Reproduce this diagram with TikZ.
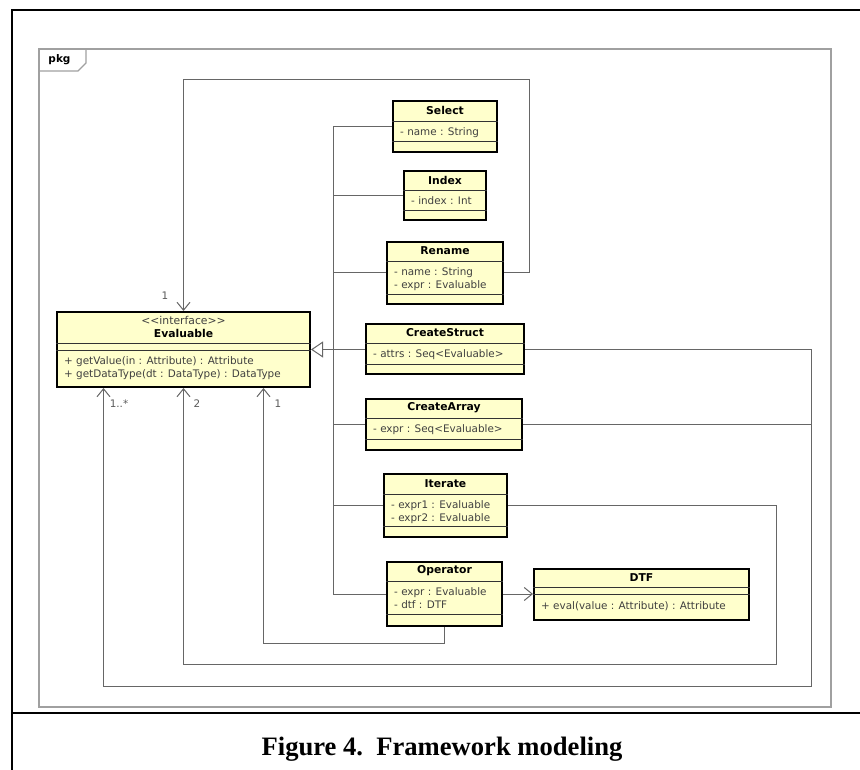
\documentclass[tikz,border=0pt]{standalone}
\usepackage{fontspec}
\setmainfont{Liberation Serif}
\newfontfamily\umlfont{DejaVu Sans}
\usetikzlibrary{positioning,arrows.meta}
\definecolor{umlfill}{RGB}{255,255,204}
\definecolor{umlgray}{RGB}{102,102,102}
\definecolor{pkggray}{RGB}{160,160,160}

\newcommand{\UmlClass}[9]{%
  \node[umlbox, minimum width=#3, minimum height=#4, #2] (#1) {};
  \draw[umlsep] ([yshift=-#5]#1.north west) -- ([yshift=-#5]#1.north east);
  \draw[umlsep] ([yshift=-#6]#1.north west) -- ([yshift=-#6]#1.north east);
  \node[umltitle] (#1-name) at ([yshift=-#5/2]#1.north) {#7};
  \node[umltext] (#1-attr) at ([yshift=-#5]#1.north west) {#8};
  \node[umltext] (#1-op) at ([yshift=-#6]#1.north west) {#9};
}

\begin{document}
\begin{tikzpicture}[x=1pt, y=-1pt,
    umlbox/.style={draw=black, line width=2pt, fill=umlfill, inner sep=0pt},
    umlsep/.style={draw=black!80, line width=0.8pt},
    umltitle/.style={font=\umlfont\bfseries\fontsize{10.8}{12.8}\selectfont, align=center, inner sep=0pt},
    umltext/.style={anchor=north west, align=left, text=black!75, inner xsep=8pt, inner ysep=6.8pt,
      font=\umlfont\fontsize{10.4}{12.3}\selectfont},
    umlline/.style={draw=umlgray, line width=1pt},
    assoc/.style={umlline, -{Straight Barb[length=8pt,width=13pt]}},
    gen/.style={umlline, -{Triangle[open,length=12pt,width=16pt]}},
    mult/.style={font=\umlfont\fontsize{10.4}{12}\selectfont, text=black!65, inner sep=0pt}]
    \useasboundingbox (0,0) rectangle (860,770);

    \draw[line width=2.5pt] (860,10) -- (12,10) -- (12,770);
    \draw[line width=2.5pt] (12,713) -- (860,713);
    \node[font=\bfseries\fontsize{26.6}{30}\selectfont, anchor=base] (caption) at (442,755)
      {Figure 4.~~Framework modeling};

    \draw[draw=pkggray, line width=1.2pt] (39,49) rectangle (831,707);
    \draw[draw=pkggray, line width=1.2pt] (39,71) -- (78,71) -- (86,63) -- (86,49);
    \node[font=\umlfont\bfseries\fontsize{10.5}{12}\selectfont, inner sep=0pt] (pkg) at (59.5,60) {pkg};

    \UmlClass{evaluable}{at={(183.5,349.5)}}{253}{75}{32}{39}
      {{\mdseries\color{black!75}<<interface>>}\\Evaluable}{}
      {+ getValue(in : Attribute) : Attribute\\+ getDataType(dt : DataType) : DataType}
    \UmlClass{select}{at={(445,126.5)}}{104}{51}{21}{41}{Select}{- name : String}{}
    \UmlClass{index}{at={(445,195.5)}}{82}{49}{20}{40}{Index}{- index : Int}{}
    \UmlClass{rename}{at={(445,273)}}{116}{62}{20}{53}{Rename}
      {- name : String\\- expr : Evaluable}{}
    \UmlClass{cstruct}{at={(445,349)}}{158}{50}{20}{41}{CreateStruct}{- attrs : Seq<Evaluable>}{}
    \UmlClass{carray}{at={(444,424.5)}}{156}{51}{20}{41}{CreateArray}{- expr : Seq<Evaluable>}{}
    \UmlClass{iterate}{at={(445.5,505.5)}}{123}{63}{21}{53}{Iterate}
      {- expr1 : Evaluable\\- expr2 : Evaluable}{}
    \UmlClass{operator}{at={(444.5,594)}}{115}{64}{20}{53}{Operator}
      {- expr : Evaluable\\- dtf : DTF}{}
    \UmlClass{dtf}{right=30 of operator}{215}{51}{20}{27}{DTF}{}
      {+ eval(value : Attribute) : Attribute}

    \coordinate (trunk) at (333,349.5);
    \draw[gen] (trunk) -- (evaluable.east);
    \draw[umlline] (select.west) -| (trunk);
    \draw[umlline] (index.west) -| (trunk);
    \draw[umlline] (rename.west) -| (trunk);
    \draw[umlline] (cstruct.west) -| (trunk);
    \draw[umlline] (carray.west) -| (trunk);
    \draw[umlline] (iterate.west) -| (trunk);
    \draw[umlline] (operator.west) -| (trunk);

    \coordinate (rtop) at (529.5,80);
    \coordinate (bend1) at (811,686);
    \coordinate (bend2) at (776,664);
    \coordinate (bend3) at (263.5,643);
    \draw[assoc] (rename.east) -| (rtop) -| (evaluable.north);
    \draw[assoc] (cstruct.east) -| (bend1) -| ([xshift=-80]evaluable.south);
    \draw[umlline] (carray.east) -| (bend1);
    \draw[assoc] (iterate.east) -| (bend2) -| (evaluable.south);
    \draw[assoc] (operator.south) |- (bend3) -- ([xshift=80]evaluable.south);
    \draw[assoc] (operator.east) -- (dtf.west);

    \node[mult] (m1) at (165,296) {1};
    \node[mult] (m2) at (119,404) {1..*};
    \node[mult] (m3) at (197,404) {2};
    \node[mult] (m4) at (278,404) {1};
\end{tikzpicture}
\end{document}
